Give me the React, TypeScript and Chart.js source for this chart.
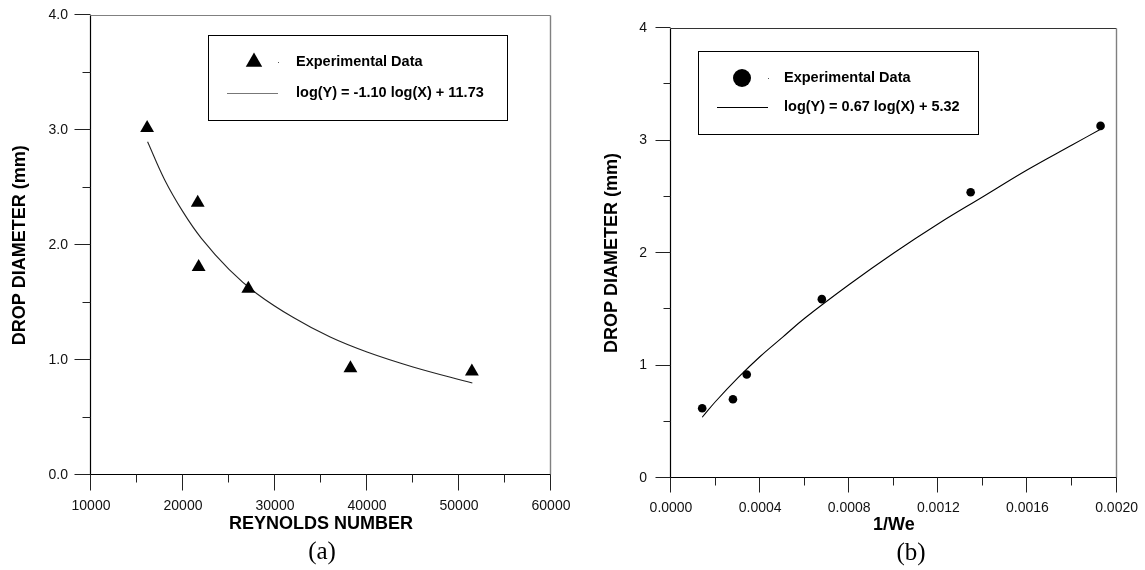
import React, { useEffect, useRef } from 'react';
import { Chart, registerables } from 'chart.js';

Chart.register(...registerables);

// ---------- data ----------
const reynoldsNumber = [16100, 21600, 21700, 27100, 38200, 51400];
const dropDiameterA = [3.02, 2.37, 1.81, 1.62, 0.93, 0.9];
const fitReynolds = [16150, 18000, 20000, 22000, 25000, 28000, 32000, 36000, 40000, 45000, 51450];
const fitDiameterA = [2.9, 2.57, 2.29, 2.06, 1.79, 1.58, 1.37, 1.2, 1.07, 0.94, 0.8];

const inverseWeber = [0.00014, 0.000278, 0.00034, 0.000677, 0.001345, 0.001928];
const dropDiameterB = [0.62, 0.7, 0.92, 1.59, 2.54, 3.13];
const fitInverseWeber = [0.00014, 0.0002, 0.0003, 0.0004, 0.0005, 0.0006, 0.0008, 0.001, 0.0012, 0.0014, 0.0016, 0.0018, 0.001928];
const fitDiameterB = [0.54, 0.68, 0.89, 1.08, 1.25, 1.42, 1.72, 2.0, 2.26, 2.5, 2.74, 2.96, 3.1];

// ---------- ticks ----------
const reynoldsMajorTicks = [10000, 20000, 30000, 40000, 50000, 60000];
const reynoldsMinorTicks = [15000, 25000, 35000, 45000, 55000];
const diameterMajorTicksA = [0, 1, 2, 3, 4];
const diameterMinorTicksA = [0.5, 1.5, 2.5, 3.5];
const weberMajorTicks = [0, 0.0004, 0.0008, 0.0012, 0.0016, 0.002];
const weberMinorTicks = [0.0002, 0.0006, 0.001, 0.0014, 0.0018];
const diameterMajorTicksB = [0, 1, 2, 3, 4];
const diameterMinorTicksB = [0.5, 1.5, 2.5, 3.5];

// ---------- texts ----------
const legendDataLabel = 'Experimental Data';
const fitLabelA = 'log(Y) = -1.10 log(X) + 11.73';
const fitLabelB = 'log(Y) = 0.67 log(X) + 5.32';
const xTitleA = 'REYNOLDS NUMBER';
const xTitleB = '1/We';
const yTitle = 'DROP DIAMETER (mm)';

const SANS = "'Liberation Sans', Arial, Helvetica, sans-serif";
const SERIF = "'Liberation Serif', 'Times New Roman', serif";

const frameAndTicks = {
  id: 'frameAndTicks',
  afterDraw(chart: any, _args: any, opts: any) {
    const { ctx, chartArea } = chart;
    const xs = chart.scales.x;
    const ys = chart.scales.y;
    const L = Math.round(chartArea.left) - 0.5;
    const R = Math.round(chartArea.right) - 0.5;
    const T = Math.round(chartArea.top) + 0.5;
    const B = Math.round(chartArea.bottom) - 0.5;
    ctx.save();
    ctx.lineWidth = 1;
    ctx.strokeStyle = opts.topColor;
    ctx.beginPath();
    ctx.moveTo(L, T);
    ctx.lineTo(R, T);
    ctx.stroke();
    ctx.strokeStyle = opts.rightColor;
    ctx.lineWidth = 1.4;
    ctx.beginPath();
    ctx.moveTo(R, T);
    ctx.lineTo(R, B);
    ctx.stroke();
    ctx.strokeStyle = '#000';
    ctx.lineWidth = 1.2;
    ctx.beginPath();
    ctx.moveTo(L, T);
    ctx.lineTo(L, B);
    ctx.lineTo(R, B);
    ctx.stroke();
    ctx.lineWidth = 1;
    ctx.strokeStyle = '#222';
    const xTick = (v: number, len: number) => {
      const p = Math.round(xs.getPixelForValue(v)) - 0.5;
      ctx.beginPath();
      ctx.moveTo(p, B);
      ctx.lineTo(p, B + len);
      ctx.stroke();
    };
    const yTick = (v: number, len: number) => {
      const p = Math.round(ys.getPixelForValue(v)) - 0.5;
      ctx.beginPath();
      ctx.moveTo(L - len, p);
      ctx.lineTo(L, p);
      ctx.stroke();
    };
    opts.xMajor.forEach((v: number) => xTick(v, opts.xMajorLen));
    opts.xMinor.forEach((v: number) => xTick(v, opts.xMinorLen));
    opts.yMajor.forEach((v: number) => yTick(v, opts.yMajorLen));
    opts.yMinor.forEach((v: number) => yTick(v, opts.yMinorLen));
    ctx.restore();
  },
};

const legendBox = {
  id: 'legendBox',
  afterDraw(chart: any, _args: any, o: any) {
    const { ctx } = chart;
    ctx.save();
    ctx.strokeStyle = '#000';
    ctx.lineWidth = 1;
    ctx.strokeRect(o.x1 + 0.5, o.y1 + 0.5, o.x2 - o.x1, o.y2 - o.y1);
    ctx.fillStyle = '#000';
    ctx.beginPath();
    if (o.marker === 'triangle') {
      const r = o.markerR;
      ctx.moveTo(o.markerX, o.markerY - r);
      ctx.lineTo(o.markerX + r * 0.866, o.markerY + r * 0.5);
      ctx.lineTo(o.markerX - r * 0.866, o.markerY + r * 0.5);
      ctx.closePath();
    } else {
      ctx.arc(o.markerX, o.markerY, o.markerR, 0, Math.PI * 2);
    }
    ctx.fill();
    ctx.fillStyle = '#555';
    ctx.fillRect(o.dotX, o.markerY, 1, 1);
    ctx.strokeStyle = o.lineColor;
    ctx.lineWidth = 1;
    ctx.beginPath();
    ctx.moveTo(o.lineX1, o.lineY + 0.5);
    ctx.lineTo(o.lineX2, o.lineY + 0.5);
    ctx.stroke();
    ctx.fillStyle = '#000';
    ctx.font = `bold 14.5px ${SANS}`;
    ctx.textAlign = 'left';
    ctx.textBaseline = 'middle';
    ctx.fillText(o.text1, o.textX, o.markerY);
    ctx.fillText(o.text2, o.textX, o.lineY);
    ctx.restore();
  },
};

function makeConfig(p: any): any {
  return {
    type: 'scatter',
    data: {
      datasets: [
        {
          label: legendDataLabel,
          data: p.xs.map((x: number, i: number) => ({ x, y: p.ys[i] })),
          pointStyle: p.pointStyle,
          pointRadius: p.pointRadius,
          backgroundColor: '#000',
          borderColor: '#000',
          borderWidth: 0,
          showLine: false,
        },
        {
          label: p.fitLabel,
          data: p.fitXs.map((x: number, i: number) => ({ x, y: p.fitYs[i] })),
          showLine: true,
          pointRadius: 0,
          borderColor: p.curveColor,
          borderWidth: 1.1,
          tension: 0.4,
          fill: false,
        },
      ],
    },
    options: {
      animation: false,
      responsive: false,
      devicePixelRatio: 1,
      events: [],
      layout: { padding: p.padding },
      plugins: {
        legend: { display: false },
        tooltip: { enabled: false },
        frameAndTicks: p.frame,
        legendBox: p.legend,
      },
      scales: {
        x: {
          type: 'linear',
          min: p.xMin,
          max: p.xMax,
          afterBuildTicks: (s: any) => {
            s.ticks = p.xTicks.map((v: number) => ({ value: v }));
          },
          afterFit: (s: any) => {
            s.height = p.xAxisHeight;
          },
          border: { display: false },
          grid: {
            drawOnChartArea: false,
            drawTicks: true,
            tickLength: p.frame.xMajorLen,
            color: 'rgba(0,0,0,0)',
            tickColor: 'rgba(0,0,0,0)',
          },
          ticks: {
            autoSkip: false,
            maxRotation: 0,
            minRotation: 0,
            padding: 7,
            color: '#111',
            font: { family: SANS, size: 14 },
            callback: p.xFormat,
          },
          title: {
            display: true,
            text: p.xTitle,
            color: '#000',
            font: { family: SANS, size: 18, weight: 'bold' },
            padding: { top: 0, bottom: p.xTitlePad },
          },
        },
        y: {
          type: 'linear',
          min: 0,
          max: 4,
          afterBuildTicks: (s: any) => {
            s.ticks = p.yTicks.map((v: number) => ({ value: v }));
          },
          afterFit: (s: any) => {
            s.width = p.yAxisWidth;
          },
          border: { display: false },
          grid: {
            drawOnChartArea: false,
            drawTicks: true,
            tickLength: p.frame.yMajorLen,
            color: 'rgba(0,0,0,0)',
            tickColor: 'rgba(0,0,0,0)',
          },
          ticks: {
            autoSkip: false,
            padding: p.yTickPad,
            color: '#111',
            font: { family: SANS, size: 14 },
            callback: p.yFormat,
          },
          title: {
            display: true,
            text: yTitle,
            color: '#000',
            font: { family: SANS, size: 18, weight: 'bold' },
            padding: { top: p.yTitlePad, bottom: 0 },
          },
        },
      },
    },
    plugins: [frameAndTicks, legendBox],
  };
}

const configA = () =>
  makeConfig({
    xs: reynoldsNumber,
    ys: dropDiameterA,
    fitXs: fitReynolds,
    fitYs: fitDiameterA,
    fitLabel: fitLabelA,
    pointStyle: 'triangle',
    pointRadius: 8,
    curveColor: '#222',
    padding: { left: 0, top: 15, right: 29, bottom: 0 },
    xMin: 10000,
    xMax: 60000,
    xTicks: reynoldsMajorTicks,
    yTicks: diameterMajorTicksA,
    xFormat: (v: number) => String(Math.round(v)),
    yFormat: (v: number) => Number(v).toFixed(1),
    xAxisHeight: 95,
    yAxisWidth: 91,
    yTickPad: 7,
    xTitle: xTitleA,
    xTitlePad: 35,
    yTitlePad: 9.5,
    frame: {
      xMajor: reynoldsMajorTicks,
      xMinor: reynoldsMinorTicks,
      yMajor: diameterMajorTicksA,
      yMinor: diameterMinorTicksA,
      xMajorLen: 16,
      xMinorLen: 8,
      yMajorLen: 16,
      yMinorLen: 8,
      topColor: '#808080',
      rightColor: '#808080',
    },
    legend: {
      x1: 208,
      y1: 35,
      x2: 507,
      y2: 120,
      marker: 'triangle',
      markerX: 254,
      markerY: 62,
      markerR: 9.5,
      dotX: 278,
      lineX1: 227,
      lineX2: 278,
      lineY: 93,
      lineColor: '#777',
      textX: 296,
      text1: legendDataLabel,
      text2: fitLabelA,
    },
  });

const configB = () =>
  makeConfig({
    xs: inverseWeber,
    ys: dropDiameterB,
    fitXs: fitInverseWeber,
    fitYs: fitDiameterB,
    fitLabel: fitLabelB,
    pointStyle: 'circle',
    pointRadius: 4.3,
    curveColor: '#000',
    padding: { left: 0, top: 28, right: 24, bottom: 0 },
    xMin: 0,
    xMax: 0.002,
    xTicks: weberMajorTicks,
    yTicks: diameterMajorTicksB,
    xFormat: (v: number) => Number(v).toFixed(4),
    yFormat: (v: number) => String(Math.round(v)),
    xAxisHeight: 92,
    yAxisWidth: 91,
    yTickPad: 9,
    xTitle: xTitleB,
    xTitlePad: 34,
    yTitlePad: 20.8,
    frame: {
      xMajor: weberMajorTicks,
      xMinor: weberMinorTicks,
      yMajor: diameterMajorTicksB,
      yMinor: diameterMinorTicksB,
      xMajorLen: 15,
      xMinorLen: 8,
      yMajorLen: 15,
      yMinorLen: 7,
      topColor: '#333',
      rightColor: '#808080',
    },
    legend: {
      x1: 118,
      y1: 51,
      x2: 398,
      y2: 134,
      marker: 'circle',
      markerX: 162,
      markerY: 78,
      markerR: 9,
      dotX: 188,
      lineX1: 137,
      lineX2: 188,
      lineY: 107,
      lineColor: '#000',
      textX: 204,
      text1: legendDataLabel,
      text2: fitLabelB,
    },
  });

function ChartCanvas({ make, left, width }: { make: () => any; left: number; width: number }) {
  const ref = useRef<HTMLCanvasElement>(null);
  useEffect(() => {
    const chart = new Chart(ref.current as HTMLCanvasElement, make());
    return () => chart.destroy();
  }, []);
  return (
    <canvas
      ref={ref}
      width={width}
      height={570}
      style={{ position: 'absolute', left, top: 0, width, height: 570 }}
    />
  );
}

function Caption({ text, cx, cy }: { text: string; cx: number; cy: number }) {
  return (
    <div
      style={{
        position: 'absolute',
        left: cx - 50,
        top: cy - 17,
        width: 100,
        height: 30,
        lineHeight: '30px',
        textAlign: 'center',
        fontFamily: SERIF,
        fontSize: 25,
        color: '#000',
      }}
    >
      {text}
    </div>
  );
}

export default function App() {
  return (
    <div
      style={{
        position: 'absolute',
        left: 0,
        top: 0,
        width: 1145,
        height: 570,
        background: '#fff',
        overflow: 'hidden',
      }}
    >
      <ChartCanvas make={configA} left={0} width={580} />
      <ChartCanvas make={configB} left={580} width={565} />
      <Caption text="(a)" cx={322} cy={553} />
      <Caption text="(b)" cx={911} cy={554} />
    </div>
  );
}
